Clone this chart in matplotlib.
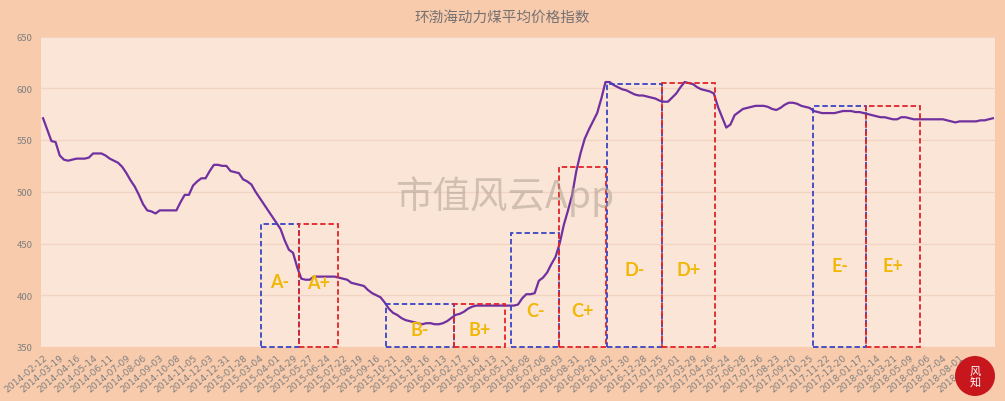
import matplotlib.pyplot as plt
import numpy as np
from matplotlib.patches import Rectangle, Ellipse

plt.rcParams['font.family'] = ['Noto Sans CJK SC', 'DejaVu Sans']

# Weekly index values (one per week, starting 2014-02-12)
price = [
    571, 560, 549, 548, 535, 531, 530, 531, 532, 532,
    532, 533, 537, 537, 537, 535, 532, 530, 528, 524,
    518, 511, 505, 497, 488, 482, 481, 479, 482, 482,
    482, 482, 482, 490, 497, 497, 506, 510, 513, 513,
    520, 526, 526, 525, 525, 520, 519, 518, 512, 510,
    507, 500, 494, 488, 482, 476, 470, 464, 453, 444,
    441, 427, 416, 415, 415, 418, 418, 418, 418, 418,
    418, 417, 416, 415, 412, 411, 410, 409, 405, 402,
    400, 398, 393, 387, 383, 381, 378, 376, 375, 374,
    373, 372, 373, 373, 372, 372, 373, 375, 378, 381,
    382, 384, 387, 389, 390, 390, 390, 390, 390, 390,
    390, 390, 390, 390, 391, 397, 401, 401, 402, 414,
    417, 422, 430, 437, 450, 468, 482, 497, 520, 537,
    551, 560, 568, 576, 590, 606, 606, 603, 601, 599,
    598, 596, 594, 593, 593, 592, 591, 590, 588, 587,
    587, 591, 595, 601, 606, 605, 604, 601, 599, 598,
    597, 595, 582, 572, 562, 565, 574, 577, 580, 581,
    582, 583, 583, 583, 582, 580, 579, 581, 584, 586,
    586, 585, 583, 582, 581, 578, 577, 576, 576, 576,
    576, 577, 578, 578, 578, 577, 577, 576, 575, 574,
    573, 572, 572, 571, 570, 570, 572, 572, 571, 570,
    570, 570, 570, 570, 570, 570, 570, 569, 568, 567,
    568, 568, 568, 568, 568, 569, 569, 570, 571,
]

# Date labels shown on the axis (every 4th week)
date_labels = [
    '2014-02-12', '2014-03-19', '2014-04-16', '2014-05-14', '2014-06-11',
    '2014-07-09', '2014-08-06', '2014-09-03', '2014-10-08', '2014-11-05',
    '2014-12-03', '2014-12-31', '2015-01-28', '2015-03-04', '2015-04-01',
    '2015-04-29', '2015-05-27', '2015-06-24', '2015-07-22', '2015-08-19',
    '2015-09-16', '2015-10-21', '2015-11-18', '2015-12-16', '2016-01-13',
    '2016-02-17', '2016-03-16', '2016-04-13', '2016-05-11', '2016-06-08',
    '2016-07-06', '2016-08-03', '2016-08-31', '2016-09-28', '2016-11-02',
    '2016-11-30', '2016-12-28', '2017-01-25', '2017-03-01', '2017-03-29',
    '2017-04-26', '2017-05-24', '2017-06-28', '2017-07-26', '2017-08-23',
    '2017-09-20', '2017-10-25', '2017-11-22', '2017-12-20', '2018-01-17',
    '2018-02-14', '2018-03-21', '2018-05-09', '2018-06-06', '2018-07-04',
    '2018-08-01', '2018-08-29',
]
label_step = 4

# Annotated periods: name, start week, end week, top value
box_names = ['A-', 'A+', 'B-', 'B+', 'C-', 'C+', 'D-', 'D+', 'E-', 'E+']
box_start = [52.2, 61.5, 82.4, 98.6, 112.4, 123.9, 135.3, 148.6, 184.8, 197.6]
box_end = [61.5, 70.9, 98.6, 110.9, 123.9, 135.1, 148.6, 161.4, 197.6, 210.4]
box_top = [469, 469, 392, 392, 460, 524, 604.5, 605, 582.5, 582.5]
name_level = [413, 412, 367, 367, 385, 385, 425, 425, 429, 429]

outer_bg = '#f8cbad'
inner_bg = '#fbe5d6'
grey_txt = '#7f7f7f'

fig = plt.figure(figsize=(10.05, 4.02), dpi=100, facecolor=outer_bg)
ax = fig.add_axes([41 / 1005, 54 / 402, 954 / 1005, 310.5 / 402])
ax.set_facecolor(inner_bg)

x = np.arange(len(price))
ax.plot(x, price, color='#7030a0', linewidth=1.6, zorder=3)

ax.set_xlim(-0.5, len(price) - 0.5)
ax.set_ylim(350, 650)
ax.set_yticks(np.arange(350, 651, 50))
ax.grid(axis='y', color='#f0d5c3', linewidth=0.9)
ax.set_axisbelow(True)
for s in ax.spines.values():
    s.set_visible(False)

ticks = np.arange(len(date_labels)) * label_step
ax.set_xticks(ticks)
ax.set_xticklabels(date_labels, rotation=40, ha='right', va='top',
                   rotation_mode='anchor', fontsize=6.6, color=grey_txt,
                   family='DejaVu Sans')
ax.tick_params(axis='x', length=0, pad=4)
ax.tick_params(axis='y', length=0, pad=6, labelsize=6.8, labelcolor=grey_txt)

for i, name in enumerate(box_names):
    col = '#3a44c4' if name.endswith('-') else '#e0242a'
    w = box_end[i] - box_start[i]
    ax.add_patch(Rectangle((box_start[i], 350), w, box_top[i] - 350,
                           fill=False, edgecolor=col, linestyle=(0, (3, 1.6)),
                           linewidth=1.3, zorder=4, clip_on=False))
    ax.text(box_start[i] + w / 2, name_level[i], name, color='#f2b705',
            fontsize=13, ha='center', va='center', fontweight='bold',
            family=['Lato', 'DejaVu Sans'], zorder=5)

fig.text(0.5, 1 - 18 / 402, '环渤海动力煤平均价格指数', ha='center', va='center',
         fontsize=10.5, color='#767171')

# watermark
fig.text(505 / 1005, 1 - 197 / 402, '市值风云App', ha='center', va='center',
         fontsize=27, color='#b0a092', alpha=0.55, zorder=10)

# round logo at bottom right
logo = Ellipse((975 / 1005, 1 - 377 / 402), 40 / 1005, 40 / 402,
               transform=fig.transFigure, facecolor='#c8161d',
               edgecolor='none', zorder=10)
fig.patches.append(logo)
fig.text(975 / 1005, 1 - 377 / 402, '风\n知', ha='center', va='center',
         fontsize=8, color='white', linespacing=1.0, zorder=11)

fig.savefig('out.png', dpi=100, facecolor=outer_bg)
